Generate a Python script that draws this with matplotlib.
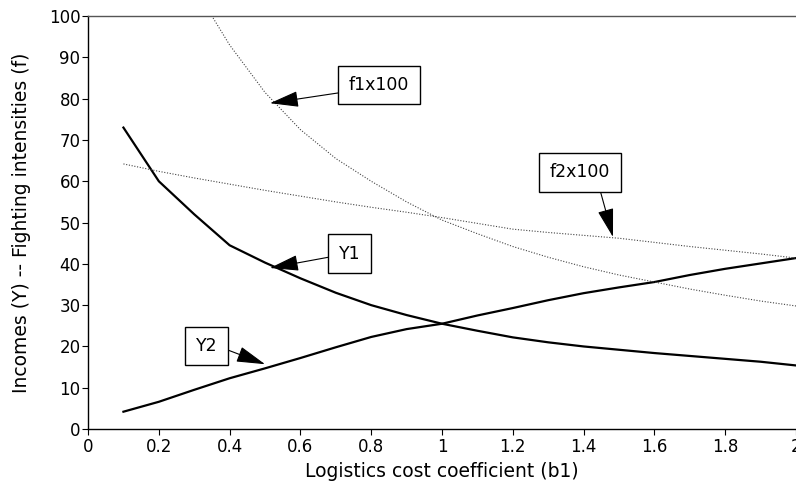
import matplotlib
matplotlib.use("Agg")
import matplotlib.pyplot as plt

plt.rcParams['font.family'] = ['DejaVu Sans']

b1 = [0.1, 0.2, 0.3, 0.4, 0.5, 0.6, 0.7, 0.8, 0.9, 1.0,
      1.1, 1.2, 1.3, 1.4, 1.5, 1.6, 1.7, 1.8, 1.9, 2.0]
Y1 = [73, 60, 52, 44.5, 40.3, 36.5, 33, 30, 27.6, 25.5,
      23.8, 22.2, 21, 20, 19.2, 18.4, 17.7, 17, 16.3, 15.4]
Y2 = [4.2, 6.6, 9.5, 12.3, 14.7, 17.2, 19.8, 22.3, 24.2, 25.5,
      27.5, 29.3, 31.2, 32.9, 34.3, 35.6, 37.3, 38.8, 40.1, 41.4]
b1_f1 = [0.3, 0.4, 0.5, 0.6, 0.7, 0.8, 0.9, 1.0,
         1.1, 1.2, 1.3, 1.4, 1.5, 1.6, 1.7, 1.8, 1.9, 2.0]
f1x100 = [107, 93, 81.5, 72.5, 65.5, 60, 55, 50.6,
          47.3, 44.2, 41.6, 39.3, 37.3, 35.6, 33.9, 32.4, 31.0, 29.8]
f2x100 = [64.2, 62.4, 60.8, 59.3, 57.8, 56.4, 55, 53.7, 52.5, 51.2,
          49.8, 48.4, 47.6, 46.9, 46.2, 45.2, 44.2, 43.3, 42.4, 41.4]

xticks = [0, 0.2, 0.4, 0.6, 0.8, 1, 1.2, 1.4, 1.6, 1.8, 2]
xticklabels = ['0', '0.2', '0.4', '0.6', '0.8', '1', '1.2', '1.4', '1.6', '1.8', '2']
yticks = list(range(0, 101, 10))

fig = plt.figure(figsize=(7.96, 4.87), dpi=100)
ax = fig.add_axes([0.1106, 0.119, 0.8894, 0.848])

ax.plot(b1, Y1, color='black', lw=1.6)
ax.plot(b1, Y2, color='black', lw=1.6)
ax.plot(b1_f1, f1x100, color='#444444', lw=0.8, linestyle=(0, (1, 1.5)))
ax.plot(b1, f2x100, color='#444444', lw=0.8, linestyle=(0, (1, 1.5)))

ax.set_xlim(0, 2)
ax.set_ylim(0, 100)
ax.set_xticks(xticks)
ax.set_xticklabels(xticklabels)
ax.set_yticks(yticks)
ax.tick_params(direction='out', length=4.5, width=0.8, labelsize=12, colors='black')
ax.tick_params(axis='x', pad=2)
ax.tick_params(axis='y', pad=1)
ax.spines['right'].set_visible(False)
for s in ['left', 'bottom', 'top']:
    ax.spines[s].set_linewidth(1.0)
ax.spines['top'].set_color('#555555')

ax.set_xlabel('Logistics cost coefficient (b1)', fontsize=13.5, labelpad=4)
ax.set_ylabel('Incomes (Y) -- Fighting intensities (f)', fontsize=13.5, labelpad=13)

bbox = dict(boxstyle='square,pad=0.6', fc='white', ec='black', lw=1.0)
def ann(text, tip, pos, relpos):
    ax.annotate(text, xy=tip, xytext=pos, fontsize=12.5, ha='center', va='center',
                bbox=bbox,
                arrowprops=dict(arrowstyle='-|>,head_length=0.9,head_width=0.25',
                                mutation_scale=20, fc='black', ec='black', lw=0.8,
                                relpos=relpos, shrinkA=0, shrinkB=0))

ann('f1x100', (0.514, 78.9), (0.822, 83.3), (0, 0.15))
ann('f2x100', (1.483, 46.5), (1.39, 62.2), (0.79, 0))
ann('Y1', (0.514, 39.0), (0.739, 42.5), (0, 0.4))
ann('Y2', (0.5, 15.7), (0.335, 20.1), (1, 0.5))

fig.savefig('out.png', dpi=100)
